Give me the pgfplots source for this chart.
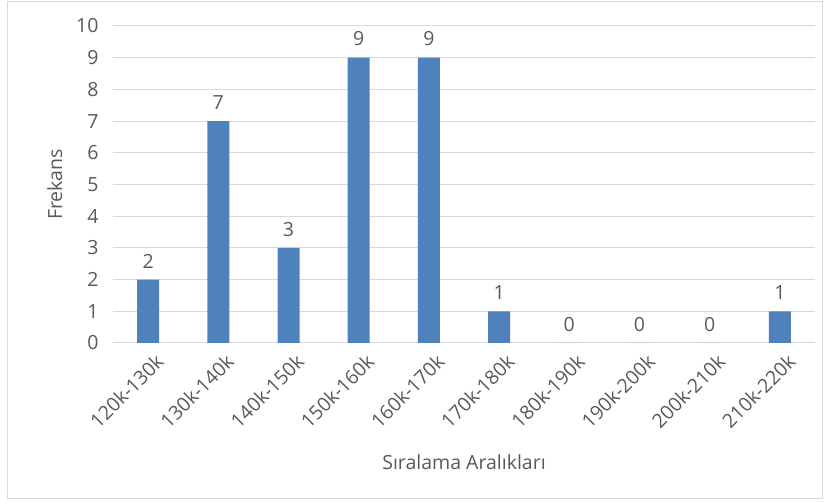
\documentclass[border=0pt]{standalone}
\usepackage{pgfplots}
\pgfplotsset{compat=1.18}
\usepackage{fontspec}
\setmainfont{Open Sans}
\definecolor{barblue}{HTML}{4F81BD}
\definecolor{txt}{HTML}{595959}
\definecolor{gridc}{HTML}{D9D9D9}
\newcommand\cf{\fontsize{19.5bp}{22bp}\selectfont}
\begin{document}
\begin{tikzpicture}[x=1bp,y=1bp]
\path (-113,-160) rectangle (716,343);
\draw[gridc, line width=1bp] (-105,-156) rectangle (709,341);
\begin{axis}[
  at={(0,0)}, anchor=south west,
  scale only axis, width=702bp, height=317bp,
  xmin=-0.5, xmax=9.5, ymin=0, ymax=10,
  enlargelimits=false,
  /pgf/number format/assume math mode=true,
  ytick={0,1,...,10},
  xtick={0,1,...,9},
  xticklabels={120k-130k,130k-140k,140k-150k,150k-160k,160k-170k,170k-180k,180k-190k,190k-200k,200k-210k,210k-220k},
  axis line style={draw=none},
  major tick length=0pt,
  ymajorgrids, grid style={gridc, line width=1bp},
  tick label style={font=\cf, text=txt},
  yticklabel style={xshift=-11bp},
  xticklabel style={rotate=45, anchor=east, xshift=1bp, yshift=-19bp},
  ylabel={Frekans}, xlabel={Sıralama Aralıkları},
  label style={font=\cf, text=txt},
  ylabel style={at={(axis description cs:-0.083,0.5)}, anchor=center},
  xlabel style={at={(axis description cs:0.5,-0.375)}, anchor=center},
  ybar, bar width=22bp,
  nodes near coords,
  every node near coord/.append style={font=\cf, text=txt, yshift=8bp},
]
\addplot[fill=barblue, draw=none] coordinates {(0,2) (1,7) (2,3) (3,9) (4,9) (5,1) (6,0) (7,0) (8,0) (9,1)};
\end{axis}
\end{tikzpicture}
\end{document}
